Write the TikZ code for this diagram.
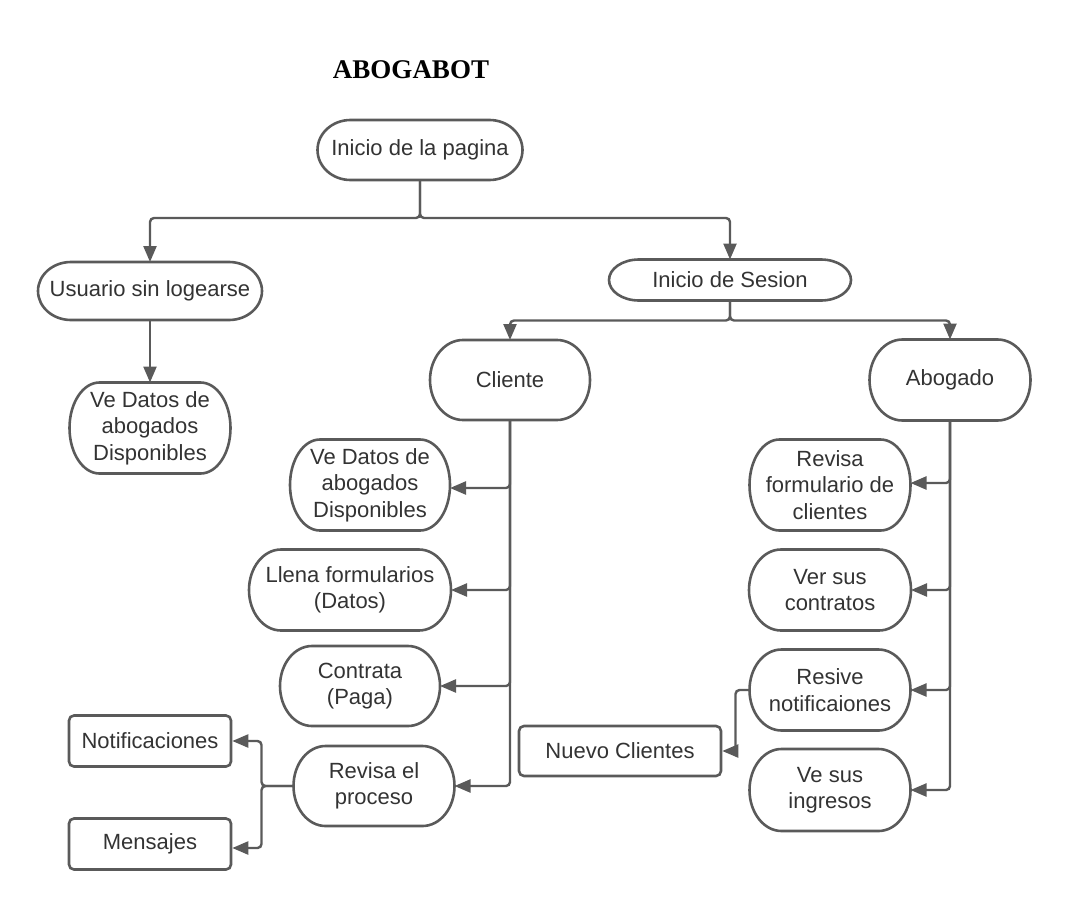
\documentclass[tikz,border=0pt]{standalone}
\usepackage{fontspec}
\setmainfont{Liberation Sans}
\newfontfamily\titlefont{Liberation Serif}
\usetikzlibrary{arrows.meta,calc}
\definecolor{linegray}{HTML}{5A5A5A}
\definecolor{textgray}{HTML}{333333}
% outline of a pill: rectangle with half-elliptic ends (#2 = x radius, #3 = y radius)
\newcommand\pillshape[3]{%
  \draw[outline] ($(#1.north east)+(-#2,0)$)
   .. controls ($(#1.north east)+({-0.4477*#2},0)$) and ($(#1.east)+(0,{-0.5523*#3})$) .. (#1.east)
   .. controls ($(#1.east)+(0,{0.5523*#3})$) and ($(#1.south east)+({-0.4477*#2},0)$) .. ($(#1.south east)+(-#2,0)$)
   -- ($(#1.south west)+(#2,0)$)
   .. controls ($(#1.south west)+({0.4477*#2},0)$) and ($(#1.west)+(0,{0.5523*#3})$) .. (#1.west)
   .. controls ($(#1.west)+(0,{-0.5523*#3})$) and ($(#1.north west)+({0.4477*#2},0)$) .. ($(#1.north west)+(#2,0)$)
   -- cycle;}
\begin{document}
\begin{tikzpicture}[x=1pt,y=-1pt,
  outline/.style={draw=linegray, line width=2.6pt},
  base/.style={text=textgray, align=center,
    font=\fontsize{22}{26.5}\selectfont, inner sep=0pt},
  pill/.style={base, outer sep=0pt},
  plainbox/.style={base, draw=linegray, line width=2.6pt, rounded corners=5pt},
  conn/.style={draw=linegray, line width=2.4pt, rounded corners=4pt,
    -{Triangle[length=16pt,width=13pt]}}]
\useasboundingbox (0,0) rectangle (1070,910);

\node[text=black, font=\titlefont\bfseries\fontsize{27}{30}\selectfont] (title) at (411,70) {ABOGABOT};

\node[pill, minimum width=205pt, minimum height=60pt] (ini) at (420,150) {Inicio de la pagina};
\node[pill, minimum width=224pt, minimum height=58pt] (usr) at (150,291) {Usuario sin logearse};
\node[pill, minimum width=161pt, minimum height=91pt] (vd1) at (150,428) {Ve Datos de\\abogados\\Disponibles};
\node[pill, minimum width=242pt, minimum height=41pt] (ses) at (730,280) {Inicio de Sesion};

\node[pill, minimum width=160pt, minimum height=80pt] (cli) at (510,380) {Cliente};
\node[pill, minimum width=161pt, minimum height=81pt] (abo) at (950,380) {Abogado};

\node[pill, minimum width=160pt, minimum height=91pt] (vd2) at (370,485) {Ve Datos de\\abogados\\Disponibles};
\node[pill, minimum width=202pt, minimum height=81pt] (lle) at (350,590) {Llena formularios\\(Datos)};
\node[pill, minimum width=160pt, minimum height=80pt] (con) at (360,686) {Contrata\\(Paga)};
\node[pill, minimum width=161pt, minimum height=80pt] (rev) at (374,786) {Revisa el\\proceso};

\node[plainbox, minimum width=162pt, minimum height=51pt] (notif) at (150,741) {Notificaciones};
\node[plainbox, minimum width=162pt, minimum height=51pt] (men) at (150,844) {Mensajes};

\node[pill, minimum width=161pt, minimum height=91pt] (rfc) at (830,485) {Revisa\\formulario de\\clientes};
\node[pill, minimum width=162pt, minimum height=81pt] (vsc) at (830,590) {Ver sus\\contratos};
\node[pill, minimum width=161pt, minimum height=81pt] (res) at (830,690) {Resive\\notificaiones};
\node[pill, minimum width=161pt, minimum height=82pt] (vsi) at (830,790) {Ve sus\\ingresos};
\node[plainbox, minimum width=202pt, minimum height=50pt] (nue) at (620,751) {Nuevo Clientes};

% pill outlines
\pillshape{ini}{33}{30}
\pillshape{usr}{33}{29}
\pillshape{vd1}{30}{45.5}
\pillshape{ses}{30}{20.5}
\pillshape{cli}{33}{40}
\pillshape{abo}{33}{40.5}
\pillshape{vd2}{30}{45.5}
\pillshape{lle}{32}{40.5}
\pillshape{con}{32}{40}
\pillshape{rev}{32}{40}
\pillshape{rfc}{30}{45.5}
\pillshape{vsc}{32}{40.5}
\pillshape{res}{32}{40.5}
\pillshape{vsi}{32}{41}

% top branch
\draw[conn] (ini.south) -- ++(0,38) -| (usr.north);
\draw[conn] (ini.south) -- ++(0,38) -| (ses.north);
\draw[conn] (usr.south) -- (vd1.north);

% session branch
\draw[conn] (ses.south) -- ++(0,20) -| (cli.north);
\draw[conn] (ses.south) -- ++(0,20) -| (abo.north);

% cliente column
\draw[conn] (cli.south) |- ([yshift=-3pt]vd2.east);
\draw[conn] (cli.south) |- (lle.east);
\draw[conn] (cli.south) |- (con.east);
\draw[conn] (cli.south) |- (rev.east);

% revisa el proceso
\draw[conn] (rev.west) -- ++(-32,0) |- (notif.east);
\draw[conn] (rev.west) -- ++(-32,0) |- ([yshift=-4pt]men.east);

% abogado column
\draw[conn] (abo.south) |- ([yshift=2pt]rfc.east);
\draw[conn] (abo.south) |- (vsc.east);
\draw[conn] (abo.south) |- (res.east);
\draw[conn] (abo.south) |- (vsi.east);

% resive -> nuevo
\draw[conn] (res.west) -- ++(-14,0) |- (nue.east);
\end{tikzpicture}
\end{document}
